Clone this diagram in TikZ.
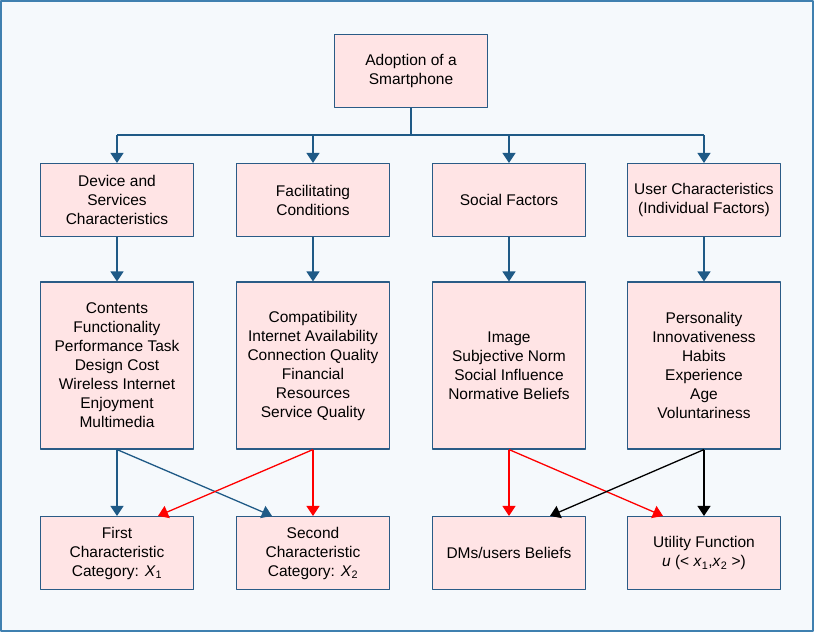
\documentclass[tikz,border=0pt]{standalone}
\usepackage{fontspec}
\setmainfont{Liberation Sans}
\usetikzlibrary{arrows.meta}
\definecolor{boxline}{HTML}{2A5B86}
\definecolor{boxfill}{HTML}{FFE4E5}
\definecolor{arrblue}{HTML}{1F5A86}
\definecolor{pagebg}{HTML}{F5F9FC}
\definecolor{frame}{HTML}{3F80B0}
\tikzset{
	box/.style={draw=boxline,fill=boxfill,line width=1.1pt,rectangle,align=center,
		minimum width=153pt,minimum height=73pt,inner sep=2pt},
	tallbox/.style={box,minimum height=167pt},
	arr/.style={line width=1.3pt,-{Triangle[width=13pt,length=10pt]}},
}
\begin{document}
\begin{tikzpicture}[x=1pt,y=-1pt,font=\fontsize{15.5}{19}\selectfont,line join=round]
	\useasboundingbox (0,0) rectangle (814,632);
	\draw[frame,fill=pagebg,line width=1.5pt] (1,1) rectangle (813,631);
	
	\node[box] (top) at (411,71) {Adoption of a\\Smartphone};
	
	\path (117,200) node[box] (d1) {Device and\\Services\\Characteristics}
	      (313,200) node[box] (d2) {Facilitating\\Conditions}
	      (509,200) node[box] (d3) {Social Factors}
	      (704,200) node[box] (d4) {User Characteristics\\(Individual Factors)};
	
	\path (117,365.5) node[tallbox] (f1) {Contents\\Functionality\\Performance Task\\Design Cost\\Wireless Internet\\Enjoyment\\Multimedia}
	      (313,365.5) node[tallbox] (f2) {Compatibility\\Internet Availability\\Connection Quality\\Financial\\Resources\\Service Quality}
	      (509,365.5) node[tallbox] (f3) {Image\\Subjective Norm\\Social Influence\\Normative Beliefs}
	      (704,365.5) node[tallbox] (f4) {Personality\\Innovativeness\\Habits\\Experience\\Age\\Voluntariness};
	
	\path (117,553) node[box] (x1) {First\\Characteristic\\Category: \textit{X}\textsubscript{1}}
	      (313,553) node[box] (x2) {Second\\Characteristic\\Category: \textit{X}\textsubscript{2}}
	      (509,553) node[box] (dm) {DMs/users Beliefs}
	      (704,553) node[box] (uf) {Utility Function\\\textit{u} (< \textit{x}\textsubscript{1},\textit{x}\textsubscript{2} >)};
	
	% bus from the top box
	\draw[arrblue,line width=1.3pt] (top.south) -- ++(0,27) coordinate (bus);
	\draw[arrblue,line width=1.3pt] (bus -| d1.north) -- (bus -| d4.north);
	\foreach \i in {1,...,4} {
		\draw[arr,arrblue] (bus -| d\i.north) -- (d\i.north);
		\draw[arr,arrblue] (d\i.south) -- (f\i.north);
	}
	
	% to the bottom row
	\draw[arr,arrblue] (f1.south) -- (x1.north);
	\draw[arr,arrblue] (f1.south) -- ([xshift=-41pt]x2.north);
	\draw[arr,red] (f2.south) -- ([xshift=41pt]x1.north);
	\draw[arr,red] (f2.south) -- (x2.north);
	\draw[arr,red] (f3.south) -- (dm.north);
	\draw[arr,red] (f3.south) -- ([xshift=-41pt]uf.north);
	\draw[arr,black] (f4.south) -- ([xshift=41pt]dm.north);
	\draw[arr,black] (f4.south) -- (uf.north);
\end{tikzpicture}
\end{document}
